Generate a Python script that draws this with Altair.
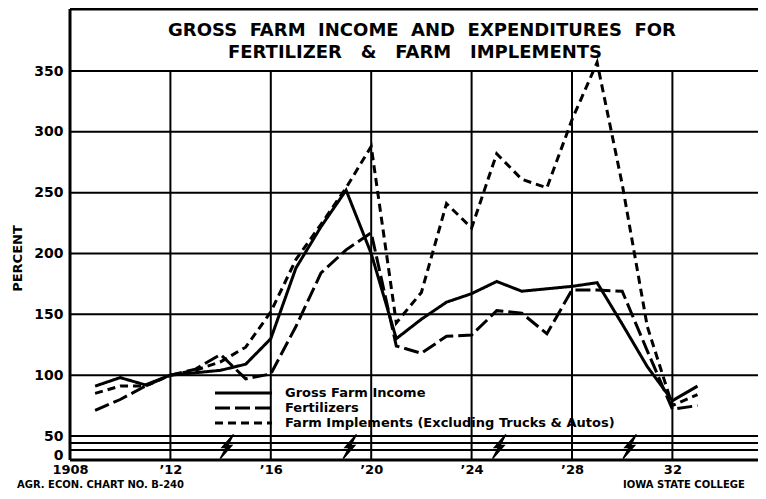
import altair as alt
import pandas as pd

# ---------------- data ----------------
years = list(range(1909, 1934))
gross_income = [91, 98, 92, 100, 102, 104, 109, 130, 188, 222, 252, 200, 130, 146,
                160, 167, 177, 169, 171, 173, 176, 142, 107, 79, 91]
fertilizers = [71, 80, 91, 100, 105, 117, 97, 101, 140, 184, 203, 217, 124, 118,
               132, 133, 153, 151, 134, 170, 170, 169, 120, 72, 75]
implements = [85, 91, 91, 100, 104, 111, 123, 152, 195, 224, 254, 288, 143, 168,
              241, 221, 282, 261, 254, 310, 357, 257, 140, 75, 84]

series_names = ["Gross Farm Income", "Fertilizers",
                "Farm Implements (Excluding Trucks & Autos)"]
series_dashes = [[1, 0], [15, 5], [8, 5]]

y_ticks = [0, 50, 100, 150, 200, 250, 300, 350]
y_grid = [50, 100, 150, 200, 250, 300, 350]
x_tick_years = [1908, 1912, 1916, 1920, 1924, 1928, 1932, 1936]
x_tick_labels = ["1908", "’12", "’16", "’20", "’24", "’28", "32", "’36"]
x_grid_years = [1912, 1916, 1920, 1924, 1928, 1932]
break_band = [31.6, 13.2]
break_marks = [1914.25, 1919.15, 1925.1, 1930.3]
NB = "\u00a0"
title_lines = ["GROSS" + NB + " FARM" + NB + " INCOME" + NB + " AND" + NB + " EXPENDITURES" + NB + " FOR",
               "FERTILIZER" + NB + NB + " &" + NB + NB + " FARM" + NB + NB + " IMPLEMENTS"]
footer_left = "AGR. ECON. CHART NO. B-240"
footer_right = "IOWA STATE COLLEGE"

# ---------------- layout ----------------
W, H = 688, 451
FONT = "DejaVu Sans"
px_per_year = 25.1

xscale = alt.Scale(domain=[1908, 1908 + W / px_per_year], nice=False, zero=False)
yscale = alt.Scale(domain=[0, 50, 350], range=[446, 427, 62], nice=False, zero=False)

rows = []
for name, vals in zip(series_names, [gross_income, fertilizers, implements]):
    for yr, v in zip(years, vals):
        rows.append({"year": yr, "value": v, "series": name})
df = pd.DataFrame(rows)

label_expr = ""
for yv, lab in zip(x_tick_years, x_tick_labels):
    label_expr += f"datum.value == {yv} ? '{lab}' : "
label_expr += "''"

dash_scale = alt.Scale(domain=series_names, range=series_dashes)
one = pd.DataFrame({"k": [0]})

lines = alt.Chart(df).mark_line(color="black", strokeWidth=3).encode(
    x=alt.X("year:Q", scale=xscale,
            axis=alt.Axis(values=x_tick_years, labelExpr=label_expr, title=None,
                          grid=False, ticks=False, domain=False, labelFlush=False,
                          labelOverlap=False, labelFont=FONT, labelFontSize=13,
                          labelFontWeight="bold", labelColor="black", labelPadding=3)),
    y=alt.Y("value:Q", scale=yscale,
            axis=alt.Axis(values=y_ticks, title="PERCENT", grid=False, ticks=False,
                          domain=False, labelFont=FONT, labelFontSize=14,
                          labelFontWeight="bold", labelColor="black", labelPadding=7,
                          labelOverlap=False, labelFlush=False,
                          titleFont=FONT, titleFontSize=13, titleFontWeight="bold",
                          titleColor="black", titleX=-53, titleY=249, titleAngle=270,
                          titleAlign="center", titleBaseline="middle")),
    strokeDash=alt.StrokeDash("series:N", scale=dash_scale, legend=None),
    detail="series:N",
)

hgrid = alt.Chart(pd.DataFrame({"v": y_grid})).mark_rule(color="black", strokeWidth=2).encode(
    y=alt.Y("v:Q", scale=yscale), x=alt.value(0), x2=alt.value(W))

band = alt.Chart(pd.DataFrame({"v": break_band})).mark_rule(color="black", strokeWidth=2).encode(
    y=alt.Y("v:Q", scale=yscale), x=alt.value(0), x2=alt.value(W))

vgrid = alt.Chart(pd.DataFrame({"year": x_grid_years})).mark_rule(color="black", strokeWidth=2).encode(
    x=alt.X("year:Q", scale=xscale),
    y=alt.YDatum(350, scale=yscale), y2=alt.value(H))

frame_top = alt.Chart(one).mark_rule(color="black", strokeWidth=3).encode(
    x=alt.value(0), x2=alt.value(W), y=alt.value(0))
frame_left = alt.Chart(one).mark_rule(color="black", strokeWidth=3).encode(
    x=alt.value(0), y=alt.value(0), y2=alt.value(H))
frame_bottom = alt.Chart(one).mark_rule(color="black", strokeWidth=3).encode(
    x=alt.value(0), x2=alt.value(W), y=alt.value(H))

bolt = "M0.55,-1 L0.05,-0.08 L0.4,-0.08 L-0.55,1 L-0.05,0.08 L-0.4,0.08 Z"
bolts = alt.Chart(pd.DataFrame({"year": break_marks})).mark_point(
    shape=bolt, size=576, filled=True, fill="black", stroke="black",
    strokeWidth=1.5, opacity=1).encode(
    x=alt.X("year:Q", scale=xscale),
    y=alt.YDatum(22.4, scale=yscale))

leg = pd.DataFrame({"series": series_names, "row": [0, 1, 2]})
leg_base = alt.Chart(leg).transform_calculate(py="384 + 15 * datum.row")
leg_lines = leg_base.mark_rule(color="black", strokeWidth=3).encode(
    x=alt.value(145), x2=alt.value(202), y=alt.Y("py:Q", scale=None),
    strokeDash=alt.StrokeDash("series:N", scale=dash_scale, legend=None))
leg_text = leg_base.mark_text(align="left", baseline="middle", font=FONT, fontSize=13,
                              fontWeight="bold", color="black").encode(
    x=alt.value(215), y=alt.Y("py:Q", scale=None), text="series:N")

title1 = alt.Chart(one).mark_text(text=title_lines[0], font=FONT, fontSize=18,
                                  fontWeight="bold", color="black", align="center",
                                  baseline="middle").encode(x=alt.value(352), y=alt.value(22))
title2 = alt.Chart(one).mark_text(text=title_lines[1], font=FONT, fontSize=18,
                                  fontWeight="bold", color="black", align="center",
                                  baseline="middle").encode(x=alt.value(345), y=alt.value(44))
foot1 = alt.Chart(one).mark_text(text=footer_left, font=FONT, fontSize=10,
                                 fontWeight="bold", color="black", align="left",
                                 baseline="alphabetic").encode(x=alt.value(-53), y=alt.value(479.3))
foot2 = alt.Chart(one).mark_text(text=footer_right, font=FONT, fontSize=10,
                                 fontWeight="bold", color="black", align="left",
                                 baseline="alphabetic").encode(x=alt.value(553), y=alt.value(479.3))

chart = alt.layer(
    hgrid, band, vgrid, frame_top, frame_left, frame_bottom, bolts,
    lines, leg_lines, leg_text, title1, title2, foot1, foot2,
).properties(
    width=W, height=H,
    autosize=alt.AutoSizeParams(type="none"),
    padding={"left": 62, "top": 1, "right": 0, "bottom": 31},
    background="white",
).configure_view(stroke=None)

chart.save("out.html", embed_options={"renderer": "svg", "actions": False})
